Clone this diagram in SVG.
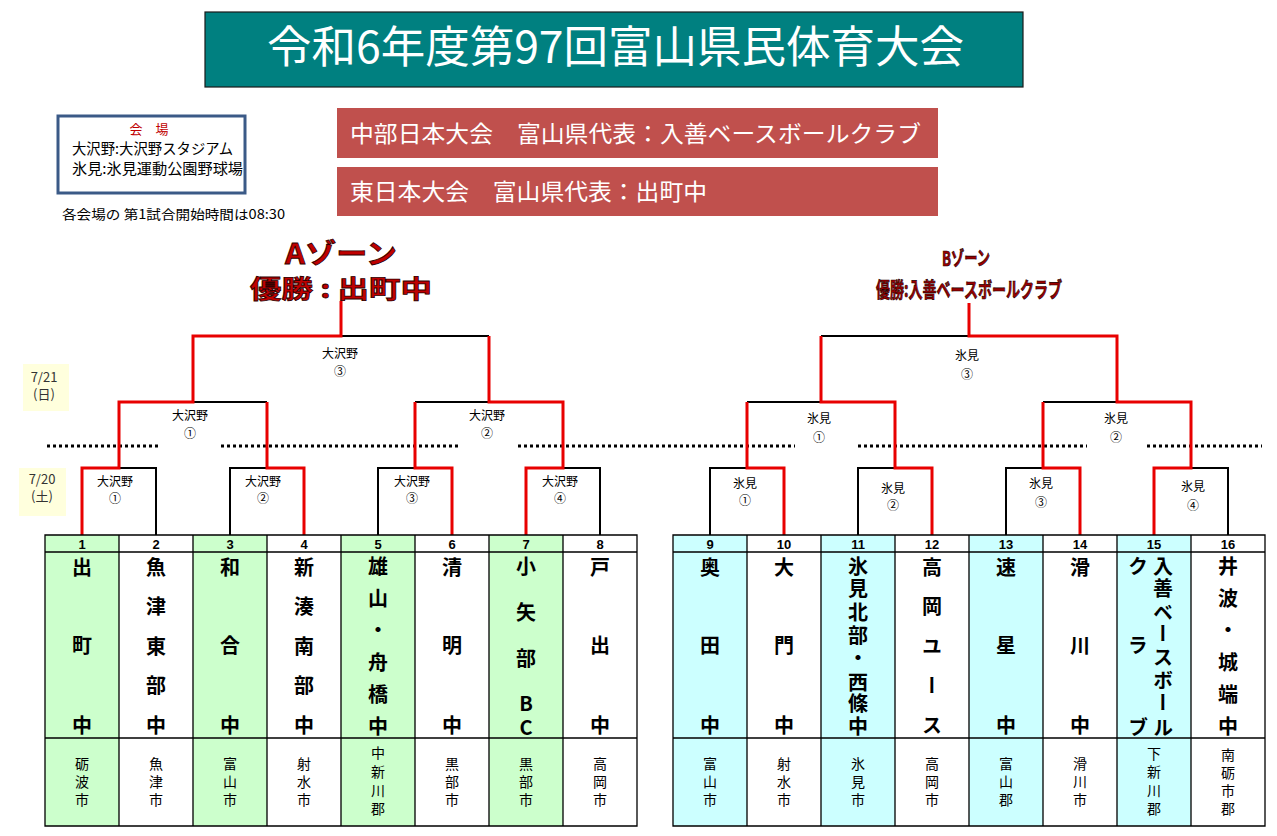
<svg xmlns="http://www.w3.org/2000/svg" width="1277" height="836" viewBox="0 0 1277 836">
<style>
text{font-family:"Noto Sans CJK JP","Noto Sans CJK SC",sans-serif;}
.ttl{font-size:44px;fill:#fff;}
.rb{font-size:23px;fill:#fff;}
.ven{font-size:14.5px;fill:#000;}
.lbl{font-size:12px;fill:#000;text-anchor:middle;}
.date{font-size:13px;fill:#333;text-anchor:middle;}
.num{font-family:"Liberation Sans",sans-serif;font-size:13px;font-weight:bold;text-anchor:middle;fill:#000;}
.nm{font-size:20px;font-weight:bold;fill:#000;writing-mode:vertical-rl;text-orientation:upright;}
.ct{font-size:14px;fill:#000;writing-mode:vertical-rl;text-orientation:upright;}
.blk{fill:none;stroke:#000;stroke-width:2;}
.red{fill:none;stroke:#E80000;stroke-width:3;}
.dot{fill:none;stroke:#000;stroke-width:3;stroke-dasharray:3 3;}
.grid{fill:none;stroke:#000;stroke-width:1.3;}
.za{font-weight:bold;fill:#C00000;stroke:#300000;stroke-width:0.8;text-anchor:middle;}
.zb{font-weight:bold;fill:#9A0000;stroke:#200000;stroke-width:0.7;text-anchor:middle;}
</style>
<rect width="1277" height="836" fill="#fff"/>

<g id="title">
<rect x="205" y="12" width="818" height="75" fill="#008080" stroke="#1a1a1a" stroke-width="1.2"/>
<text class="ttl" x="267" y="63" textLength="697" lengthAdjust="spacingAndGlyphs">令和6年度第97回富山県民体育大会</text>
</g>

<g id="rep1">
<rect x="337" y="108" width="601" height="50" fill="#C0504D"/>
<text class="rb" x="350" y="142" textLength="571" lengthAdjust="spacingAndGlyphs">中部日本大会　富山県代表：入善ベースボールクラブ</text>
</g>
<g id="rep2">
<rect x="337" y="167" width="601" height="49" fill="#C0504D"/>
<text class="rb" x="350" y="200" textLength="357" lengthAdjust="spacingAndGlyphs">東日本大会　富山県代表：出町中</text>
</g>

<g id="venue">
<rect x="58" y="116" width="187" height="77" fill="#fff" stroke="#3B5A87" stroke-width="3"/>
<text x="149" y="134" font-size="13" fill="#C00000" text-anchor="middle">会　場</text>
<text class="ven" x="72" y="154" textLength="161" lengthAdjust="spacingAndGlyphs">大沢野:大沢野スタジアム</text>
<text class="ven" x="72" y="174" textLength="171" lengthAdjust="spacingAndGlyphs">氷見:氷見運動公園野球場</text>
</g>
<text x="62" y="219" font-size="13" fill="#000" textLength="223" lengthAdjust="spacingAndGlyphs">各会場の 第1試合開始時間は08:30</text>

<g id="zoneA">
<text class="za" x="341" y="264" font-size="28" textLength="112" lengthAdjust="spacingAndGlyphs">Aゾーン</text>
<text class="za" x="341" y="298" font-size="25" textLength="182" lengthAdjust="spacingAndGlyphs">優勝 : 出町中</text>
</g>
<g id="zoneB">
<text class="zb" x="966" y="266" font-size="20" textLength="48" lengthAdjust="spacingAndGlyphs">Bゾーン</text>
<text class="zb" x="969" y="297" font-size="21" textLength="186" lengthAdjust="spacingAndGlyphs">優勝:入善ベースボールクラブ</text>
</g>

<g id="dates">
<rect x="23" y="364" width="46" height="47" fill="#FFFFDD"/>
<text class="date" x="44" y="382">7/21</text>
<text class="date" x="44" y="399">(日)</text>
<rect x="19" y="468" width="47" height="48" fill="#FFFFDD"/>
<text class="date" x="42" y="484">7/20</text>
<text class="date" x="42" y="501">(土)</text>
</g>

<g id="connectors">
<path class="dot" d="M47 446H160M221 446H458M518 446H795M858 446H1087M1147 446H1262"/>
<!-- A black -->
<path class="blk" d="M82 535V468H156V535M230 535V468H304V535M378 535V468H452V535M526 535V468H600V535"/>
<path class="blk" d="M119 402H267M415 402H563M193 336H489"/>
<!-- A red -->
<path class="red" d="M82 535V468H119V402H193V336H341V301"/>
<path class="red" d="M304 535V468H267V402"/>
<path class="red" d="M452 535V468H415V402"/>
<path class="red" d="M526 535V468H563V402H489V336"/>
<!-- B black -->
<path class="blk" d="M710 535V468H784V535M858 535V468H932V535M1006 535V468H1080V535M1154 535V468H1228V535"/>
<path class="blk" d="M747 402H895M1043 402H1191M821 336H1117"/>
<!-- B red -->
<path class="red" d="M784 535V468H747V402"/>
<path class="red" d="M932 535V468H895V402H821V336"/>
<path class="red" d="M1080 535V468H1043V402"/>
<path class="red" d="M1154 535V468H1191V402H1117V336H969V303"/>
</g>

<g id="labelsA">
<text class="lbl" x="340" y="358">大沢野</text><text class="lbl" x="340" y="376">③</text>
<text class="lbl" x="190" y="420">大沢野</text><text class="lbl" x="190" y="438">①</text>
<text class="lbl" x="487" y="420">大沢野</text><text class="lbl" x="487" y="438">②</text>
<text class="lbl" x="115" y="486">大沢野</text><text class="lbl" x="115" y="503">①</text>
<text class="lbl" x="263" y="486">大沢野</text><text class="lbl" x="263" y="503">②</text>
<text class="lbl" x="412" y="486">大沢野</text><text class="lbl" x="412" y="503">③</text>
<text class="lbl" x="560" y="486">大沢野</text><text class="lbl" x="560" y="503">④</text>
</g>
<g id="labelsB">
<text class="lbl" x="967" y="360">氷見</text><text class="lbl" x="967" y="379">③</text>
<text class="lbl" x="819" y="423">氷見</text><text class="lbl" x="819" y="442">①</text>
<text class="lbl" x="1116" y="423">氷見</text><text class="lbl" x="1116" y="442">②</text>
<text class="lbl" x="745" y="488">氷見</text><text class="lbl" x="745" y="505">①</text>
<text class="lbl" x="893" y="493">氷見</text><text class="lbl" x="893" y="510">②</text>
<text class="lbl" x="1041" y="488">氷見</text><text class="lbl" x="1041" y="507">③</text>
<text class="lbl" x="1193" y="491">氷見</text><text class="lbl" x="1193" y="510">④</text>
</g>

<g id="tableA">
<rect x="45" y="535" width="74" height="291" fill="#CCFFCC"/>
<rect x="193" y="535" width="74" height="291" fill="#CCFFCC"/>
<rect x="341" y="535" width="74" height="291" fill="#CCFFCC"/>
<rect x="489" y="535" width="74" height="291" fill="#CCFFCC"/>
<path class="grid" d="M45 535H637V826H45ZM45 552H637M45 738H637M119 535V826M193 535V826M267 535V826M341 535V826M415 535V826M489 535V826M563 535V826"/>
</g>
<g id="tableB">
<rect x="673" y="535" width="74" height="291" fill="#CCFFFF"/>
<rect x="821" y="535" width="74" height="291" fill="#CCFFFF"/>
<rect x="969" y="535" width="74" height="291" fill="#CCFFFF"/>
<rect x="1117" y="535" width="74" height="291" fill="#CCFFFF"/>
<path class="grid" d="M673 535H1265V826H673ZM673 552H1265M673 738H1265M747 535V826M821 535V826M895 535V826M969 535V826M1043 535V826M1117 535V826M1191 535V826"/>
</g>

<g id="team1"><text class="num" x="82" y="549">1</text><text class="nm" x="82" y="557 635 715">出町中</text><text class="ct" x="82" y="757 775 793">砺波市</text></g>
<g id="team2"><text class="num" x="156" y="549">2</text><text class="nm" x="156" y="557 596.5 636 675.5 715">魚津東部中</text><text class="ct" x="156" y="757 775 793">魚津市</text></g>
<g id="team3"><text class="num" x="230" y="549">3</text><text class="nm" x="230" y="557 635 715">和合中</text><text class="ct" x="230" y="757 775 793">富山市</text></g>
<g id="team4"><text class="num" x="304" y="549">4</text><text class="nm" x="304" y="557 596.5 636 675.5 715">新湊南部中</text><text class="ct" x="304" y="757 775 793">射水市</text></g>
<g id="team5"><text class="num" x="378" y="549">5</text><text class="nm" x="378" y="556 588 619 652 684 716">雄山・舟橋中</text><text class="ct" x="378" y="746 765 784 802">中新川郡</text></g>
<g id="team6"><text class="num" x="452" y="549">6</text><text class="nm" x="452" y="557 635 715">清明中</text><text class="ct" x="452" y="757 775 793">黒部市</text></g>
<g id="team7"><text class="num" x="526" y="549">7</text><text class="nm" x="526" y="556 602 648 693 717">小矢部BC</text><text class="ct" x="526" y="757 775 793">黒部市</text></g>
<g id="team8"><text class="num" x="600" y="549">8</text><text class="nm" x="600" y="557 635 715">戸出中</text><text class="ct" x="600" y="757 775 793">高岡市</text></g>

<g id="team9"><text class="num" x="710" y="549">9</text><text class="nm" x="710" y="557 635 715">奥田中</text><text class="ct" x="710" y="757 775 793">富山市</text></g>
<g id="team10"><text class="num" x="784" y="549">10</text><text class="nm" x="784" y="557 635 715">大門中</text><text class="ct" x="784" y="757 775 793">射水市</text></g>
<g id="team11"><text class="num" x="858" y="549">11</text><text class="nm" x="858" y="556 578 602 625 647 672 693 716">氷見北部・西條中</text><text class="ct" x="858" y="757 775 793">氷見市</text></g>
<g id="team12"><text class="num" x="932" y="549">12</text><text class="nm" x="932" y="557 596.5 636 675.5 715">高岡ユース</text><text class="ct" x="932" y="757 775 793">高岡市</text></g>
<g id="team13"><text class="num" x="1006" y="549">13</text><text class="nm" x="1006" y="557 635 715">速星中</text><text class="ct" x="1006" y="757 775 793">富山郡</text></g>
<g id="team14"><text class="num" x="1080" y="549">14</text><text class="nm" x="1080" y="557 635 715">滑川中</text><text class="ct" x="1080" y="757 775 793">滑川市</text></g>
<g id="team15"><text class="num" x="1154" y="549">15</text><text class="nm" x="1163" y="556 578 602 623 647 670 692 717">入善ベースボール</text><text class="nm" x="1138" y="556 635 717">クラブ</text><text class="ct" x="1154" y="747 765 784 802">下新川郡</text></g>
<g id="team16"><text class="num" x="1228" y="549">16</text><text class="nm" x="1228" y="556 588 619 652 684 716">井波・城端中</text><text class="ct" x="1228" y="748 766 784 802">南砺市郡</text></g>
</svg>
